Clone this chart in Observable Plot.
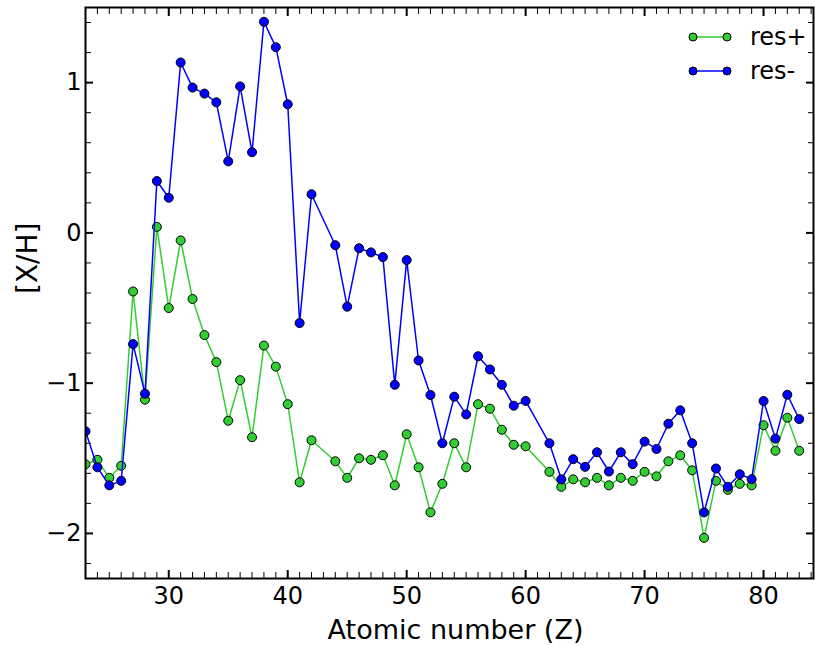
<!DOCTYPE html>
<html>
<head>
<meta charset="utf-8">
<script src="https://cdn.jsdelivr.net/npm/d3@7"></script>
<script src="https://cdn.jsdelivr.net/npm/@observablehq/plot@0.6"></script>
<style>
  html, body { margin: 0; padding: 0; background: #fff; }
  #chart { width: 815px; height: 646px; }
</style>
</head>
<body>
<div id="chart"></div>
<script>
// Atomic numbers (Tc = 43 and Pm = 61 absent)
const Z = [23,24,25,26,27,28,29,30,31,32,33,34,35,36,37,38,39,40,41,42,
           44,45,46,47,48,49,50,51,52,53,54,55,56,57,58,59,60,
           62,63,64,65,66,67,68,69,70,71,72,73,74,75,76,77,78,79,80,81,82,83];

// [X/H] for res+ (green)
const resPlus = [-1.54,-1.51,-1.63,-1.55,-0.39,-1.11,0.04,-0.50,-0.05,-0.44,-0.68,-0.86,-1.25,-0.98,-1.36,-0.75,-0.89,-1.14,-1.66,-1.38,
                 -1.52,-1.63,-1.50,-1.51,-1.48,-1.68,-1.34,-1.56,-1.86,-1.67,-1.40,-1.56,-1.14,-1.17,-1.31,-1.41,-1.42,
                 -1.59,-1.69,-1.64,-1.66,-1.63,-1.68,-1.63,-1.65,-1.59,-1.62,-1.52,-1.48,-1.58,-2.03,-1.65,-1.71,-1.67,-1.68,-1.28,-1.45,-1.23,-1.45];

// [X/H] for res- (blue)
const resMinus = [-1.32,-1.56,-1.68,-1.65,-0.74,-1.07,0.345,0.234,1.134,0.967,0.927,0.869,0.476,0.975,0.537,1.405,1.236,0.856,-0.60,0.257,
                  -0.082,-0.491,-0.102,-0.130,-0.161,-1.011,-0.181,-0.849,-1.079,-1.40,-1.090,-1.208,-0.821,-0.909,-1.011,-1.150,-1.118,
                  -1.40,-1.64,-1.506,-1.557,-1.460,-1.588,-1.460,-1.539,-1.389,-1.438,-1.270,-1.181,-1.40,-1.860,-1.568,-1.690,-1.606,-1.639,-1.119,-1.369,-1.077,-1.239];

const seriesNames = ["res+", "res-"];
const seriesColors = ["#32cd32", "#0000ff"];

const xMajor = [30, 40, 50, 60, 70, 80];
const xMinor = d3.range(23, 85).filter(d => d % 10 !== 0);
const yMajor = [-2, -1, 0, 1];
const yMinor = d3.range(-22, 15, 2).map(d => d / 10).filter(d => !Number.isInteger(d));

const xLabel = "Atomic number (Z)";
const yLabel = "[X/H]";

const plusData = Z.map((z, i) => ({Z: z, v: resPlus[i]}));
const minusData = Z.map((z, i) => ({Z: z, v: resMinus[i]}));

const FONT = "DejaVu Sans";
const intFmt = d3.format("d");

const chart = Plot.plot({
  width: 815,
  height: 646,
  marginLeft: 85,
  marginRight: 2,
  marginTop: 7,
  marginBottom: 68,
  style: {fontFamily: FONT, background: "white", color: "black", overflow: "visible"},
  x: {domain: [23, 84.2]},
  y: {domain: [-2.3, 1.5]},
  marks: [
    // data
    Plot.line(plusData, {x: "Z", y: "v", stroke: seriesColors[0], strokeWidth: 1.5, clip: true}),
    Plot.dot(plusData, {x: "Z", y: "v", r: 4.5, fill: seriesColors[0], stroke: "black", strokeWidth: 1, clip: true}),
    Plot.line(minusData, {x: "Z", y: "v", stroke: seriesColors[1], strokeWidth: 1.5, clip: true}),
    Plot.dot(minusData, {x: "Z", y: "v", r: 4.5, fill: seriesColors[1], stroke: "black", strokeWidth: 1, clip: true}),

    // inward ticks on all four sides
    Plot.axisX(xMinor, {anchor: "bottom", tickSize: -6, strokeWidth: 1, fill: "none", label: null}),
    Plot.axisX(xMajor, {anchor: "bottom", tickSize: -8, strokeWidth: 2, fill: "none", label: null}),
    Plot.axisX(xMinor, {anchor: "top", tickSize: -6, strokeWidth: 1, fill: "none", label: null}),
    Plot.axisX(xMajor, {anchor: "top", tickSize: -8, strokeWidth: 2, fill: "none", label: null}),
    Plot.axisY(yMinor, {anchor: "left", tickSize: -6, strokeWidth: 1, fill: "none", label: null}),
    Plot.axisY(yMajor, {anchor: "left", tickSize: -8, strokeWidth: 2, fill: "none", label: null}),
    Plot.axisY(yMinor, {anchor: "right", tickSize: -6, strokeWidth: 1, fill: "none", label: null}),
    Plot.axisY(yMajor, {anchor: "right", tickSize: -8, strokeWidth: 2, fill: "none", label: null}),

    // tick labels
    Plot.axisX(xMajor, {anchor: "bottom", tickSize: 0, tickPadding: 8, fontSize: 24, label: null, tickFormat: intFmt}),
    Plot.axisY(yMajor, {anchor: "left", tickSize: 0, tickPadding: 4, fontSize: 24, label: null, tickFormat: intFmt}),

    // axis titles
    Plot.text([xLabel], {text: d => d, frameAnchor: "bottom", dy: 52, dx: 6, fontSize: 27, lineAnchor: "middle"}),
    Plot.text([yLabel], {text: d => d, frameAnchor: "left", dx: -57, dy: 1, rotate: -90, fontSize: 28, lineAnchor: "middle"}),

    Plot.frame({stroke: "black", strokeWidth: 2})
  ]
});

document.getElementById("chart").appendChild(chart);

// legend (no frame), top-right inside the axes
const svg = d3.select(chart);
const lg = svg.append("g").attr("font-family", FONT).attr("font-size", 24).attr("text-anchor", "start");
seriesNames.forEach((name, i) => {
  const y = 37 + i * 34;
  const g = lg.append("g").attr("transform", `translate(0,${y})`);
  g.append("line").attr("x1", 693).attr("x2", 727).attr("y1", 0).attr("y2", 0)
    .attr("stroke", seriesColors[i]).attr("stroke-width", 1.5);
  [693, 727].forEach(cx => g.append("circle").attr("cx", cx).attr("cy", 0).attr("r", 4)
    .attr("fill", seriesColors[i]).attr("stroke", "black").attr("stroke-width", 1));
  g.append("text").attr("x", 750).attr("y", 0).attr("dy", "0.35em").attr("fill", "black")
    .attr("text-anchor", "start").text(name);
});
</script>
</body>
</html>
